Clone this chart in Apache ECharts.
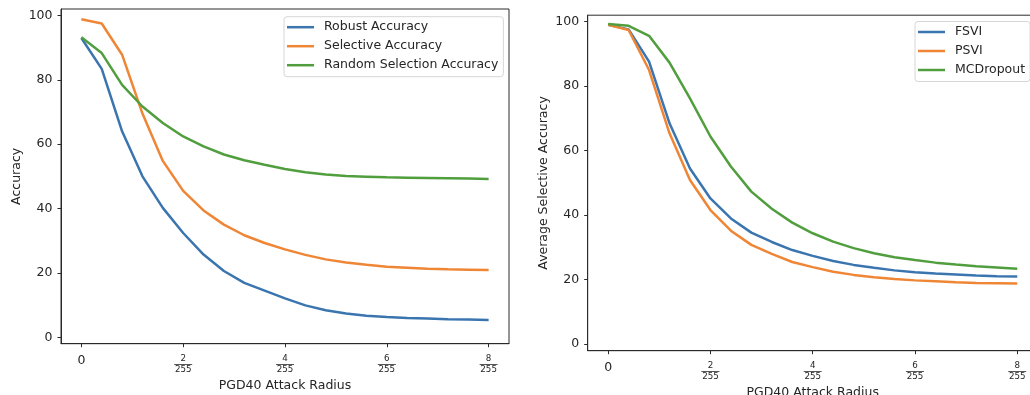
<!DOCTYPE html>
<html>
<head>
<meta charset="utf-8">
<script src="https://cdn.jsdelivr.net/npm/echarts@6/dist/echarts.min.js"></script>
<style>
html,body{margin:0;padding:0;background:#fff;}
#c{width:1030px;height:395px;}
</style>
</head>
<body>
<div id="c"></div>
<script>
// ---- data ----
var radii = [0, 0.4, 0.8, 1.2, 1.6, 2.0, 2.4, 2.8, 3.2, 3.6, 4.0, 4.4, 4.8, 5.2, 5.6, 6.0, 6.4, 6.8, 7.2, 7.6, 8.0];
var xTicks = [0, 2, 4, 6, 8];
var yTicks = [0, 20, 40, 60, 80, 100];

var robustAcc    = [93.0, 83.4, 64.0, 50.0, 40.2, 32.4, 25.7, 20.6, 16.9, 14.5, 12.1, 9.9, 8.4, 7.4, 6.7, 6.3, 6.0, 5.8, 5.6, 5.5, 5.4];
var selectiveAcc = [98.8, 97.5, 87.8, 69.5, 54.8, 45.5, 39.4, 35.0, 31.7, 29.3, 27.3, 25.6, 24.2, 23.2, 22.5, 21.9, 21.6, 21.3, 21.1, 21.0, 20.9];
var randomAcc    = [93.2, 88.3, 78.4, 71.7, 66.6, 62.4, 59.3, 56.8, 55.0, 53.6, 52.3, 51.3, 50.6, 50.1, 49.9, 49.7, 49.6, 49.5, 49.4, 49.3, 49.2];

var fsvi      = [99.0, 97.6, 87.6, 68.5, 54.5, 45.2, 39.0, 34.6, 31.7, 29.2, 27.4, 25.8, 24.6, 23.7, 22.9, 22.3, 21.9, 21.6, 21.3, 21.1, 21.0];
var psvi      = [99.0, 97.4, 85.0, 65.4, 50.9, 41.6, 35.2, 30.8, 28.0, 25.5, 23.9, 22.5, 21.5, 20.8, 20.2, 19.8, 19.5, 19.2, 19.0, 18.9, 18.8];
var mcdropout = [99.3, 98.7, 95.6, 87.3, 76.2, 64.4, 55.1, 47.3, 42.0, 37.7, 34.4, 31.8, 29.8, 28.2, 27.0, 26.1, 25.3, 24.7, 24.2, 23.8, 23.4];

var leftNames  = ['Robust Accuracy', 'Selective Accuracy', 'Random Selection Accuracy'];
var rightNames = ['FSVI', 'PSVI', 'MCDropout'];
var xTitle = 'PGD40 Attack Radius';
var leftYTitle = 'Accuracy';
var rightYTitle = 'Average Selective Accuracy';
var denom = '255';

// ---- styling ----
var FONT = 'DejaVu Sans';
var TXT = '#262626';
var AX = '#2a2a2a';
var COLORS = ['#3b75af', '#ef8636', '#519e3e'];

function pairs(vals) { return radii.map(function (x, i) { return [x, vals[i]]; }); }

function xLabelFmt(v) {
  if (v === 0) return '{z|0}';
  return '{n|' + v + '}\n{b| }\n{d|' + denom + '}';
}

function xAxisCfg(gi) {
  return {
    type: 'value', gridIndex: gi, min: -0.4, max: 8.4,
    name: xTitle, nameLocation: 'middle', nameGap: 31,
    nameTextStyle: { fontFamily: FONT, fontSize: 12.5, color: TXT },
    splitLine: { show: false },
    axisLine: { show: true, onZero: false, lineStyle: { color: AX, width: 1 } },
    axisTick: { show: true, inside: false, length: 3.5, customValues: xTicks, lineStyle: { color: AX, width: 1 } },
    axisLabel: {
      customValues: xTicks, margin: 10, formatter: xLabelFmt, color: TXT, fontFamily: FONT,
      rich: {
        z: { fontSize: 12.5, lineHeight: 15, fontFamily: FONT, color: TXT },
        n: { fontSize: 8.7, lineHeight: 10, fontFamily: FONT, color: TXT, align: 'center' },
        b: { fontSize: 1, lineHeight: 1.5, height: 0.9, width: 18, backgroundColor: '#444', align: 'center' },
        d: { fontSize: 8.7, lineHeight: 10, fontFamily: FONT, color: TXT, align: 'center' }
      }
    }
  };
}

function yAxisCfg(gi, title) {
  return {
    type: 'value', gridIndex: gi, min: -2, max: 102,
    name: title, nameLocation: 'middle', nameGap: 37.5,
    nameTextStyle: { fontFamily: FONT, fontSize: 12.5, color: TXT },
    splitLine: { show: false },
    axisLine: { show: true, onZero: false, lineStyle: { color: AX, width: 1 } },
    axisTick: { show: true, inside: false, length: 3.5, customValues: yTicks, lineStyle: { color: AX, width: 1 } },
    axisLabel: { customValues: yTicks, margin: 8.5, fontFamily: FONT, fontSize: 12.5, color: TXT }
  };
}

function lineSeries(name, vals, ci, gi) {
  return {
    type: 'line', name: name, data: pairs(vals), xAxisIndex: gi, yAxisIndex: gi,
    symbol: 'none', smooth: false, animation: false,
    lineStyle: { color: COLORS[ci], width: 2.5 },
    itemStyle: { color: COLORS[ci] }
  };
}

function legendCfg(names, left, top) {
  return {
    data: names, orient: 'vertical', left: left, top: top,
    icon: 'rect', itemWidth: 27, itemHeight: 2.5, itemGap: 4,
    padding: [3, 5, 4, 3],
    backgroundColor: '#fff', borderColor: '#d6d6d6', borderWidth: 1, borderRadius: 3,
    textStyle: { fontFamily: FONT, fontSize: 12.5, color: TXT, lineHeight: 15, padding: [0, 0, 0, 5] }
  };
}

var chart = echarts.init(document.getElementById('c'), null, { renderer: 'canvas' });
chart.setOption({
  animation: false,
  backgroundColor: '#fff',
  grid: [
    { left: 61, top: 9, width: 448, height: 334.7, containLabel: false, outerBoundsMode: 'none', show: true, borderColor: AX, borderWidth: 1, backgroundColor: 'transparent' },
    { left: 587.7, top: 15.2, width: 450, height: 335.5, containLabel: false, outerBoundsMode: 'none', show: true, borderColor: AX, borderWidth: 1, backgroundColor: 'transparent' }
  ],
  xAxis: [xAxisCfg(0), xAxisCfg(1)],
  yAxis: [yAxisCfg(0, leftYTitle), yAxisCfg(1, rightYTitle)],
  legend: [legendCfg(leftNames, 284, 16.7), legendCfg(rightNames, 915, 21.5)],
  series: [
    lineSeries(leftNames[0], robustAcc, 0, 0),
    lineSeries(leftNames[1], selectiveAcc, 1, 0),
    lineSeries(leftNames[2], randomAcc, 2, 0),
    lineSeries(rightNames[0], fsvi, 0, 1),
    lineSeries(rightNames[1], psvi, 1, 1),
    lineSeries(rightNames[2], mcdropout, 2, 1)
  ]
});
</script>
</body>
</html>
